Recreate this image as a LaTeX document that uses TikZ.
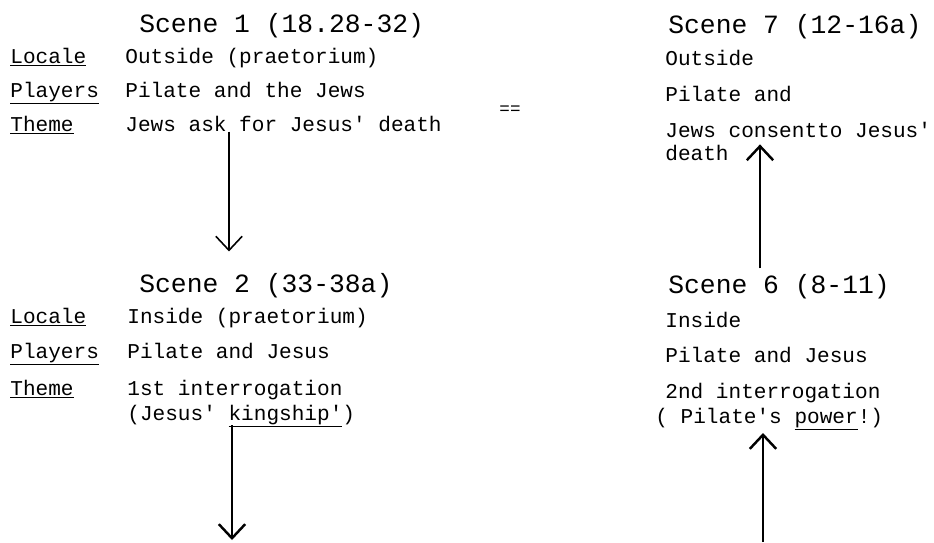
\documentclass[tikz,border=0pt]{standalone}
\usepackage{fontspec}
\setmonofont{Liberation Mono}
\usepackage{tikz}
\usetikzlibrary{arrows,arrows.meta}
\tikzstyle{head} = [anchor=base west, inner sep=0pt, font=\ttfamily\fontsize{15}{18}\selectfont]
\tikzstyle{row} = [anchor=base west, inner sep=0pt, font=\ttfamily\fontsize{12}{14}\selectfont]
\tikzstyle{flow} = [-{Straight Barb[length=8pt,width=15pt]}, line width=1.4pt]

\begin{document}
\begin{tikzpicture}[x=0.02cm,y=-0.02cm]
\useasboundingbox (0,0) rectangle (934,542);

% scene 1
\node[head] (sc1) at (139,32) {Scene 1 (18.28-32)};
\node[row] (lc1) at (10,63) {\underline{Locale}};
\node[row] (pl1) at (10,97) {\underline{Players}};
\node[row] (tm1) at (10,131) {\underline{Theme}};
\node[row] (lv1) at (125,63) {Outside (praetorium)};
\node[row] (pv1) at (125,97) {Pilate and the Jews};
\node[row] (tv1) at (125,131) {Jews ask for Jesus' death};

% scene 2
\node[head] (sc2) at (139,292) {Scene 2 (33-38a)};
\node[row] (lc2) at (10,323) {\underline{Locale}};
\node[row] (pl2) at (10,358) {\underline{Players}};
\node[row] (tm2) at (10,395) {\underline{Theme}};
\node[row] (lv2) at (127,323) {Inside (praetorium)};
\node[row] (pv2) at (127,358) {Pilate and Jesus};
\node[row] (tv2) at (127,395) {1st interrogation};
\node[row] (tw2) at (127,420) {(Jesus' \underline{kingship'})};

% scene 7
\node[head] (sc7) at (668,33) {Scene 7 (12-16a)};
\node[row] (lv7) at (665,65) {Outside};
\node[row] (pv7) at (665,101) {Pilate and};
\node[row] (tv7) at (665,137) {Jews consentto Jesus'};
\node[row] (tw7) at (665,160) {death};

% scene 6
\node[head] (sc6) at (668,293) {Scene 6 (8-11)};
\node[row] (lv6) at (665,327) {Inside};
\node[row] (pv6) at (665,362) {Pilate and Jesus};
\node[row] (tv6) at (665,398) {2nd interrogation};
\node[row] (tw6) at (655,423) {( Pilate's \underline{power}!)};

\node[font=\ttfamily\fontsize{10}{12}\selectfont] (eq) at (510,110) {==};

\coordinate (a1) at (229,0);
\coordinate (a2) at (232,425);
\coordinate (b2) at (232,540);
\coordinate (a3) at (760,0);
\coordinate (a4) at (763,542);

\draw[flow, line width=0.9pt] (a1 |- tv1.south) -- ([yshift=12pt]a1 |- sc2.north);
\draw[flow] (a2) -- (b2);
\draw[flow] ([yshift=3pt]a3 |- sc6.north) -- (a3 |- tw7.north);
\draw[flow] (a4) -- ([yshift=-1pt]a4 |- tw6.south);

\end{tikzpicture}
\end{document}
